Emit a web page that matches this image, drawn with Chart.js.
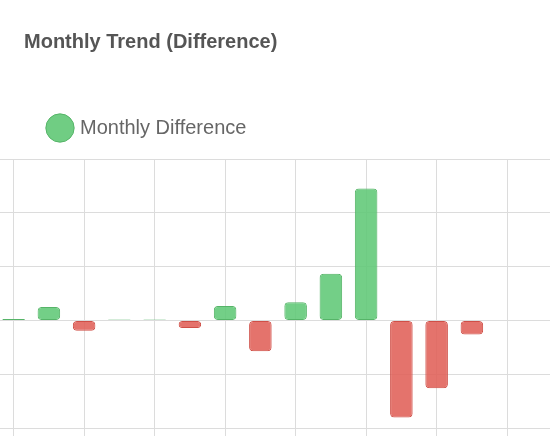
<!DOCTYPE html>
<html><head><meta charset="utf-8">
<script src="https://cdn.jsdelivr.net/npm/chart.js@4"></script>
<style>html,body{margin:0;padding:0;background:#fff;overflow:hidden}#w{position:absolute;left:-4px;top:0;width:564px;height:482px}</style>
</head><body><div id="w"><canvas id="c"></canvas></div>
<script>
const categories = ["M1","M2","M3","M4","M5","M6","M7","M8","M9","M10","M11","M12","M13","M14","M15","M16"];
const differences = [0.03,0.25,-0.19,0.02,0.02,-0.14,0.27,-0.57,0.34,0.87,2.45,-1.8,-1.26,-0.26,0.01,0];
const fillCol = v => v >= 0 ? "rgba(96,200,118,0.88)" : "rgba(224,96,88,0.88)";
const lineCol = v => v >= 0 ? "#56b468" : "#cf4f47";
const shiftPlugin = {
  id: "shift",
  beforeUpdate(chart) {
    const lg = chart.legend;
    if (lg && !lg._patched) { const f = lg.fit; lg.fit = function () { f.call(this); this.height += 11; }; lg._patched = true; }
  },
  afterLayout(chart) {
    if (chart.titleBlock) { const w = chart.titleBlock.width; chart.titleBlock.left = 28; chart.titleBlock.right = 28 + w; }
    if (chart.legend) { chart.legend.left = 41; chart.legend.adjustHitBoxes && chart.legend.adjustHitBoxes(); }
  }
};
new Chart(document.getElementById("c"), {
  type: "bar",
  plugins: [shiftPlugin],
  data: { labels: categories, datasets: [{
    label: "Monthly Difference", data: differences,
    backgroundColor: differences.map(fillCol), borderColor: differences.map(lineCol),
    borderWidth: 1, borderRadius: 4, borderSkipped: false,
    categoryPercentage: 0.8, barPercentage: 0.8 }] },
  options: {
    responsive: true, maintainAspectRatio: false, animation: false,
    layout: { padding: 0 },
    plugins: {
      title: { display: true, text: "Monthly Trend (Difference)", align: "start", color: "#555",
        font: { family: "Liberation Sans", size: 20, weight: "bold" }, padding: { top: 30, bottom: 51 } },
      legend: { align: "start", labels: { usePointStyle: true, pointStyle: "circle", boxWidth: 32, boxHeight: 32, padding: 13,
        color: "#666", font: { family: "Liberation Sans", size: 20 },
        generateLabels: () => [{ text: "Monthly Difference", fillStyle: "rgba(96,200,118,0.9)", strokeStyle: "#56b468", fontColor: "#666", lineWidth: 1, pointStyle: "circle", datasetIndex: 0 }] } },
      tooltip: { enabled: false }
    },
    scales: {
      x: { ticks: { display: false }, border: { display: false },
        grid: { offset: false, drawTicks: false, color: c => c.index % 2 === 0 ? "#dcdcdc" : "rgba(0,0,0,0)" } },
      y: { min: -3, max: 3, ticks: { display: false, stepSize: 1 }, border: { display: false },
        grid: { drawTicks: false, color: "#dcdcdc" } }
    }
  }
});
</script></body></html>
